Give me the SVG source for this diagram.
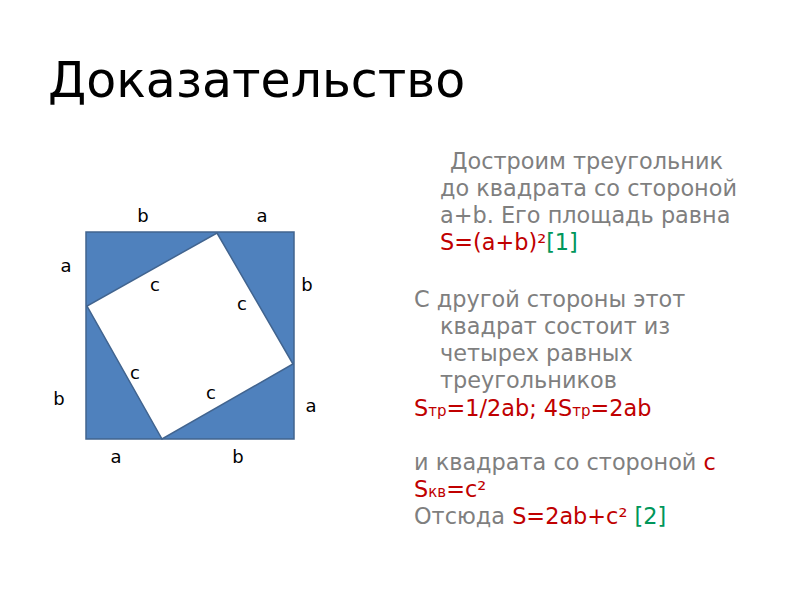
<svg xmlns="http://www.w3.org/2000/svg" width="800" height="600" viewBox="0 0 800 600">
<style>
.t{font-family:"DejaVu Sans","Liberation Sans",sans-serif;}
.title{font-size:49px;fill:#000;}
.lbl{font-size:18px;fill:#000;}
.body{font-size:22.4px;fill:#7f7f7f;}
.r{fill:#c00000;}
.g{fill:#00965a;}
.sub{font-size:15px;}
</style>
<rect width="800" height="600" fill="#fff"/>
<text class="t title" x="48" y="97">Доказательство</text>
<g id="figure">
<rect x="86" y="232" width="208" height="207" fill="#4f81bd" stroke="#41648f" stroke-width="1.5"/>
<polygon points="217,233 293,364 162,439 87,306" fill="#fff" stroke="#41648f" stroke-width="1.5"/>
</g>
<g id="labels" class="t lbl" text-anchor="middle">
<text x="143" y="222">b</text>
<text x="262" y="222">a</text>
<text x="66" y="272">a</text>
<text x="307" y="291">b</text>
<text x="155" y="291">c</text>
<text x="242" y="310">c</text>
<text x="135" y="379">c</text>
<text x="211" y="399">c</text>
<text x="59" y="405">b</text>
<text x="311" y="412">a</text>
<text x="116" y="463">a</text>
<text x="238" y="463">b</text>
</g>
<g id="text" class="t body">
<text x="450" y="169">Достроим треугольник</text>
<text x="440" y="196">до квадрата со стороной</text>
<text x="440" y="223">a+b. Его площадь равна</text>
<text x="440" y="250"><tspan class="r">S=(a+b)²</tspan><tspan class="g">[1]</tspan></text>
<text x="414" y="307">С другой стороны этот</text>
<text x="440" y="334">квадрат состоит из</text>
<text x="440" y="361">четырех равных</text>
<text x="440" y="388">треугольников</text>
<text x="414" y="416" class="r">S<tspan class="sub">тр</tspan>=1/2ab; 4S<tspan class="sub">тр</tspan>=2ab</text>
<text x="414" y="470">и квадрата со стороной <tspan class="r">c</tspan></text>
<text x="414" y="497" class="r">S<tspan class="sub">кв</tspan>=c²</text>
<text x="414" y="524">Отсюда <tspan class="r">S=2ab+c²</tspan> <tspan class="g">[2]</tspan></text>
</g>
</svg>
